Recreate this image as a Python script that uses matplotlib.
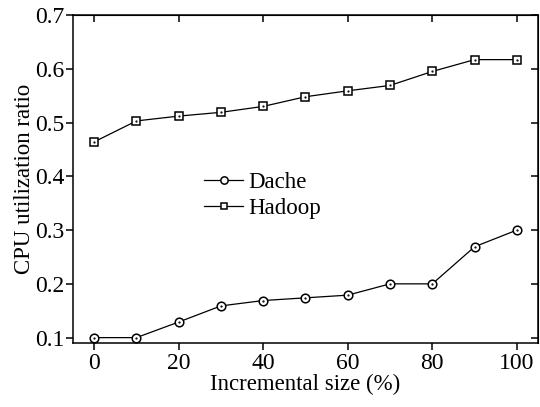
import numpy as np
import matplotlib
matplotlib.use("Agg")
import matplotlib.pyplot as plt

plt.rcParams['font.family'] = ['Liberation Serif', 'DejaVu Serif']
plt.rcParams['mathtext.fontset'] = 'stix'

# donnees
taille = [0, 10, 20, 30, 40, 50, 60, 70, 80, 90, 100]
dache = [0.1, 0.1, 0.129, 0.159, 0.169, 0.174, 0.179, 0.2, 0.2, 0.269, 0.3]
hadoop = [0.464, 0.503, 0.512, 0.519, 0.530, 0.548, 0.559, 0.569, 0.595, 0.617, 0.617]

fig = plt.figure(figsize=(5.4, 4.07), dpi=100)
ax = fig.add_axes([73/540, 1-343/407, (538-73)/540, (343-15)/407])

ax.plot(taille, dache, "k-", marker="o", ms=6.2, mfc="white", mec="black", mew=1.1, lw=0.9, label="Dache")
ax.plot(taille, hadoop, "k-", marker="s", ms=5.6, mfc="white", mec="black", mew=1.1, lw=0.9, label="Hadoop")
# petit point au centre des marqueurs
ax.plot(taille, dache, "k.", ms=1.2)
ax.plot(taille, hadoop, "k.", ms=1.2)

ax.set_xlim(-5, 105)
ax.set_ylim(0.09, 0.7)
ax.set_xticks(np.arange(0, 101, 20))
ax.set_yticks(np.arange(0.1, 0.71, 0.1))
ax.set_yticklabels(["%.1f" % v for v in np.arange(0.1, 0.71, 0.1)])
ax.tick_params(direction="out", length=5, width=1.1, labelsize=17, pad=2)
ax.tick_params(axis="y", pad=1)
for s in ax.spines.values():
    s.set_linewidth(1.1)

# ticks interieurs en haut et a droite
axt = ax.secondary_xaxis("top")
axt.set_xticks(np.arange(0, 101, 20))
axt.tick_params(direction="in", length=5, width=1.1, labeltop=False)
axr = ax.secondary_yaxis("right")
axr.set_yticks(np.arange(0.1, 0.71, 0.1))
axr.tick_params(direction="in", length=5, width=1.1, labelright=False)

ax.set_xlabel("Incremental size (%)", fontsize=16.5, labelpad=0)
ax.set_ylabel("CPU utilization ratio", fontsize=16.5, labelpad=0)

ax.legend(loc="upper left", bbox_to_anchor=(0.263, 0.548), frameon=False, fontsize=16.5,
          handlelength=1.7, handletextpad=0.2, labelspacing=0.2, borderaxespad=0,
          markerscale=0.85)

plt.savefig("out.png", dpi=100)
